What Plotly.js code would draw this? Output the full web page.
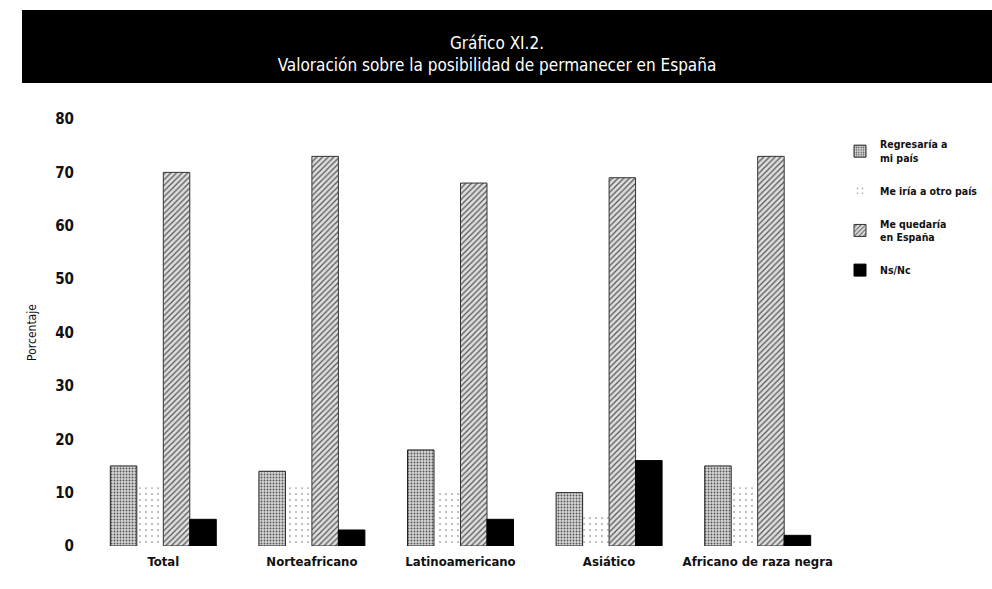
<!DOCTYPE html>
<html>
<head>
<meta charset="utf-8">
<script src="https://cdn.plot.ly/plotly-3.0.1.min.js"></script>
<style>html,body{margin:0;padding:0;background:#fff;}#chart{width:992px;height:589px;}</style>
</head>
<body>
<div id="chart"></div>
<script>
const categories = ['Total', 'Norteafricano', 'Latinoamericano', 'Asiático', 'Africano de raza negra'];
const regresaria = [15, 14, 18, 10, 15];
const otroPais   = [11, 11, 10, 6, 11];
const quedaria   = [70, 73, 68, 69, 73];
const nsnc       = [5, 3, 5, 16, 2];
const seriesNames = ['Regresaría a<br>mi país', 'Me iría a otro país', 'Me quedaría<br>en España', 'Ns/Nc'];
const yTicks = [0, 10, 20, 30, 40, 50, 60, 70, 80];

const FONT = '"DejaVu Sans Condensed", "Liberation Sans Narrow", sans-serif';

const traces = [
  {
    type: 'bar', name: seriesNames[0], legendgroup: 'g1', x: categories, y: regresaria,
    marker: {color: '#d0d0d0', line: {color: '#222', width: 1},
      pattern: {shape: '.', fgcolor: '#555', bgcolor: '#d6d6d6', size: 3, solidity: 0.3}}
  },
  {
    type: 'bar', name: seriesNames[1], legendgroup: 'g2', x: categories, y: otroPais,
    marker: {color: 'rgba(255,255,255,0)', line: {color: 'rgba(0,0,0,0)', width: 0},
      pattern: {shape: '.', fgcolor: '#b0b0b0', bgcolor: 'rgba(255,255,255,0)', size: 6, solidity: 0.1}}
  },
  {
    type: 'bar', name: seriesNames[2], legendgroup: 'g3', x: categories, y: quedaria,
    marker: {color: '#d8d8d8', line: {color: '#333', width: 1},
      pattern: {shape: '/', fgcolor: '#555', bgcolor: '#dedede', size: 4, solidity: 0.3}}
  },
  {
    type: 'bar', name: seriesNames[3], legendgroup: 'g4', x: categories, y: nsnc,
    marker: {color: '#000', line: {color: '#000', width: 1}}
  }
];

const layout = {
  width: 992, height: 589,
  margin: {l: 89, r: 160, t: 119, b: 43, pad: 0, autoexpand: false},
  paper_bgcolor: '#ffffff', plot_bgcolor: 'rgba(0,0,0,0)',
  font: {family: FONT, color: '#111', size: 12},
  barmode: 'group', bargap: 0.287, bargroupgap: 0,
  showlegend: true,
  title: {
    text: 'Gráfico XI.2.<br>Valoración sobre la posibilidad de permanecer en España',
    font: {family: FONT, color: '#ffffff', size: 17},
    x: 0.501, xanchor: 'center', xref: 'container',
    y: 1 - 49 / 589, yanchor: 'middle', yref: 'container'
  },
  shapes: [{
    type: 'rect', xref: 'paper', yref: 'paper', layer: 'below',
    x0: (22 - 89) / 743, x1: (992 - 89) / 743,
    y0: (546 - 83) / 427, y1: (546 - 10) / 427,
    fillcolor: '#000', line: {width: 0}
  }],
  xaxis: {
    type: 'category', showgrid: false, zeroline: false, showline: false,
    ticks: '', tickfont: {family: FONT, size: 13, color: '#111', weight: 'bold'},
    ticklabelstandoff: 6
  },
  yaxis: {
    range: [0, 80], tickvals: yTicks, showgrid: false, zeroline: false, showline: false,
    ticks: 'outside', ticklen: 11, tickcolor: 'rgba(0,0,0,0)',
    tickfont: {family: FONT, size: 15, color: '#111', weight: 'bold'},
    title: {text: 'Porcentaje', font: {family: FONT, size: 12, color: '#111'}, standoff: 16}
  },
  legend: {
    x: (840 - 89) / 743, xanchor: 'left',
    y: (546 - 131) / 427, yanchor: 'top',
    bgcolor: 'rgba(0,0,0,0)', borderwidth: 0,
    font: {family: FONT, size: 10.5, color: '#111', weight: 'bold'},
    tracegroupgap: 15, itemwidth: 30, traceorder: 'grouped'
  }
};

Plotly.newPlot('chart', traces, layout, {displayModeBar: false, staticPlot: true});
</script>
</body>
</html>
